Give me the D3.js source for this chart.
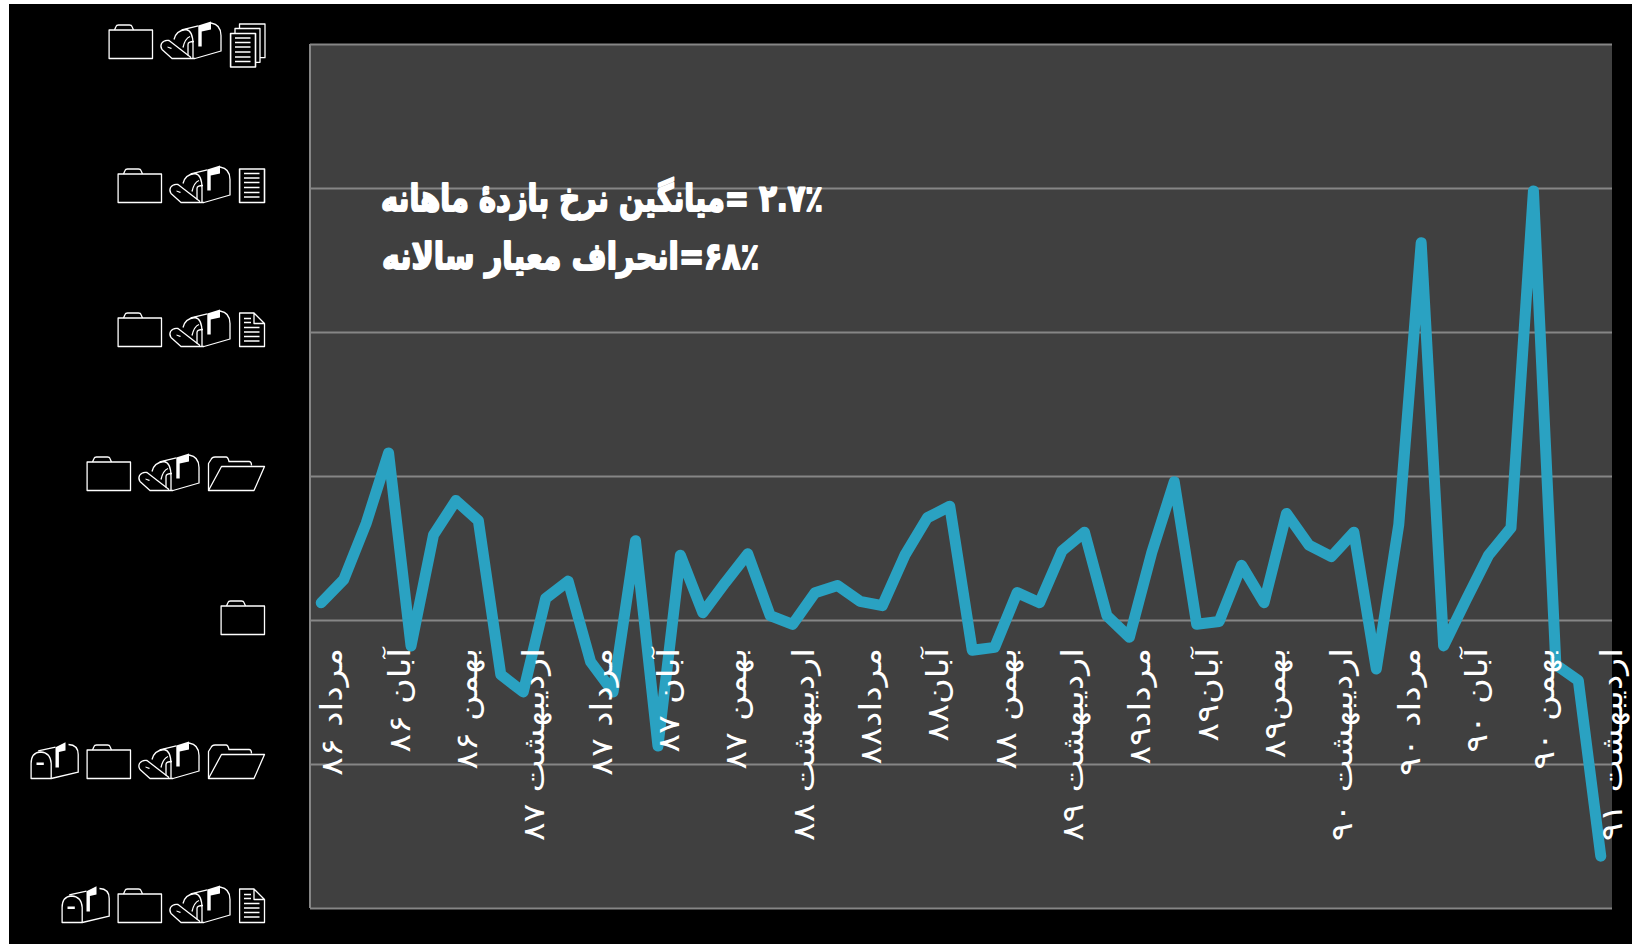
<!DOCTYPE html>
<html>
  <head>
    <meta charset="utf-8" />
    <script src="https://d3js.org/d3.v7.min.js"></script>
    <style>
      html, body { margin: 0; padding: 0; background: #fff; overflow: hidden; }
      svg { display: block; }
    </style>
  </head>
  <body>
    <svg></svg>
    <script>
      // monthly return, mordad 86 to ordibehesht 91
      const monthlyReturn = [
        0.012, 0.028, 0.067, 0.116, -0.018, 0.059, 0.083, 0.069, -0.038, -0.05,
        0.015, 0.027, -0.029, -0.05, 0.055, -0.0875, 0.045, 0.005, 0.026, 0.046,
        0.003, -0.003, 0.019, 0.024, 0.013, 0.01, 0.045, 0.071, 0.079, -0.021,
        -0.019, 0.019, 0.012, 0.048, 0.061, 0.003, -0.012, 0.047, 0.096, -0.003,
        -0.001, 0.038, 0.012, 0.074, 0.052, 0.044, 0.061, -0.034, 0.066, 0.262,
        -0.018, 0.014, 0.045, 0.064, 0.298, -0.031, -0.042, -0.164
      ];
      // one label every third month
      const monthLabels = [
        "مرداد ۸۶", "آبان ۸۶", "بهمن ۸۶", "اردیبهشت ۸۷", "مرداد ۸۷", "آبان ۸۷", "بهمن ۸۷",
        "اردیبهشت ۸۸", "مرداد۸۸", "آبان۸۸", "بهمن ۸۸", "اردیبهشت ۸۹", "مرداد۸۹", "آبان۸۹",
        "بهمن۸۹", "اردیبهشت ۹۰", "مرداد ۹۰", "آبان ۹۰", "بهمن ۹۰", "اردیبهشت ۹۱"
      ];
      const yTicks = [-0.2, -0.1, 0, 0.1, 0.2, 0.3, 0.4];
      const statLines = ["۲.۷٪ =میانگین نرخ بازدهٔ ماهانه", "۶۸٪=انحراف معیار سالانه"];

      const width = 1632, height = 944;
      const plot = { left: 310, right: 1612, top: 44, bottom: 908 };
      const gridColor = "#868686";

      const svg = d3.select("svg").attr("width", width).attr("height", height);

      svg.append("rect").attr("x", 9).attr("y", 4)
        .attr("width", width - 9).attr("height", height - 4).attr("fill", "#000");
      svg.append("rect").attr("x", plot.left).attr("y", plot.top)
        .attr("width", plot.right - plot.left).attr("height", plot.bottom - plot.top)
        .attr("fill", "#404040");

      const x = d3.scaleBand()
        .domain(d3.range(monthlyReturn.length))
        .range([plot.left, plot.right]);
      const y = d3.scaleLinear().domain([-0.2, 0.4]).range([plot.bottom, plot.top]);

      // grid lines
      const yGrid = svg.append("g")
        .attr("transform", `translate(${plot.left},0)`)
        .call(d3.axisLeft(y).tickValues(yTicks).tickSize(-(plot.right - plot.left)).tickFormat(""));
      yGrid.selectAll(".tick line").attr("stroke", gridColor).attr("stroke-width", 2);
      yGrid.select(".domain").attr("stroke", gridColor).attr("stroke-width", 2).attr("d", `M0,${plot.top}V${plot.bottom}`);

      // the y labels came out as wingdings in the original, so each character gets its icon
      const glyphs = {
        "0": { w: 44.5, draw: drawFolder },
        "1": { w: 57, draw: drawOpenFolder },
        "2": { w: 26, draw: drawPage },
        "3": { w: 26, draw: drawLinedPage },
        "4": { w: 35, draw: drawPages },
        ".": { w: 61, draw: drawOpenMailbox },
        "-": { w: 48, draw: drawMailbox }
      };
      const glyphGap = 8;

      function outline(g, d) {
        return g.append("path").attr("d", d).attr("fill", "none")
          .attr("stroke", "#fff").attr("stroke-width", 1.3).attr("stroke-linejoin", "round");
      }
      function solid(g, d) {
        return g.append("path").attr("d", d).attr("fill", "#fff");
      }
      function textLines(g, ys, x0, x1) {
        outline(g, ys.map(v => `M${x0},${v}H${x1}`).join("")).attr("stroke-width", 1.6);
      }
      function drawFolder(g) {
        outline(g, "M0.6,0V-28.5H44V0Z");
        outline(g, "M6,-28.5L7.5,-32Q8,-33.5 10,-33.5H21Q23,-33.5 23.5,-32L25,-28.5");
      }
      function drawOpenFolder(g) {
        outline(g, "M0.5,0V-27L3,-31Q4,-33.5 7,-33.5H18Q20,-33.5 21,-29H41Q43.5,-29 43.5,-25");
        outline(g, "M0.5,0L13.5,-24H56.5L46,0Z");
      }
      function drawPage(g) {
        outline(g, "M0.6,0V-33.5H15L25.5,-23V0Z M15,-33.5V-23H25.5");
        textLines(g, [-28, -24], 5, 12);
        textLines(g, [-19, -14.5, -10, -5.5], 5, 20.5);
      }
      function drawLinedPage(g) {
        outline(g, "M0.6,0V-33.5H25.5V0Z").attr("stroke-width", 1.6);
        textLines(g, [-29, -24.5, -20, -15, -10, -5.5], 5, 20.5);
      }
      function drawPages(g) {
        const s = 8.5;
        outline(g, `M0.6,${s}V${s - 33.5}H25.5V${s}Z`).attr("stroke-width", 1.6);
        outline(g, `M5,${s - 33.5}V${s - 38.5}H30V${s - 4.7}H25.5`);
        outline(g, `M9.5,${s - 38.5}V${s - 43}H35V${s - 9.3}H30`);
        textLines(g, [-29, -24.5, -20, -15, -10, -5.5].map(v => v + s), 5, 20.5);
      }
      function drawOpenMailbox(g) {
        outline(g, "M20.7,-28.7L37.3,-32.7M50,-35.5Q60,-34 60,-23V-7.5L34,0H11L1,-9Q-1,-12 0.5,-15Q3,-19 8,-18L30,-1");
        outline(g, "M13,-19Q15,-28 25,-29Q32,-28 32,-14V0");
        outline(g, "M22,-11Q24,-20 29,-22M27,-3V-14Q27,-17 33,-17");
        solid(g, "M37.3,-33L50,-37V-29L40.7,-27V-12H37.3Z");
        solid(g, "M6.5,-12L11,-10.5L10,-9.5L6.5,-11Z");
      }
      function drawMailbox(g) {
        outline(g, "M0.6,0V-15Q0.6,-26 10,-26.5Q20,-26 20.7,-15V0Z");
        outline(g, "M7.7,-27.7L25,-31.3M38,-34Q47.7,-33.5 47.7,-24V-6.3L20.7,0");
        solid(g, "M25,-31.3L35,-36.3V-28L28.4,-26.5V-11H25Z");
        solid(g, "M6,-16H13.3V-13.5H6Z");
      }

      const yLabels = svg.append("g").selectAll("g").data(yTicks).join("g")
        .attr("transform", d => `translate(0,${y(d) + 14.5})`);
      yLabels.append("title").text(d => d.toFixed(1));
      yLabels.each(function (d) {
        const chars = (d === 0 ? "0" : d.toFixed(1)).split("");
        let right = 265;
        // rightmost icon is the last character
        chars.reverse().forEach(c => {
          const glyph = glyphs[c];
          glyph.draw(d3.select(this).append("g").attr("transform", `translate(${right - glyph.w},0)`));
          right -= glyph.w + glyphGap;
        });
      });

      // line
      const line = d3.line()
        .x((d, i) => x(i) + x.bandwidth() / 2)
        .y(d => y(d));
      svg.append("path")
        .datum(monthlyReturn)
        .attr("d", line)
        .attr("fill", "none")
        .attr("stroke", "#2AA2C2")
        .attr("stroke-width", 11)
        .attr("stroke-linejoin", "round")
        .attr("stroke-linecap", "round");

      // x labels hang below the zero line, rotated; stretched because the original font runs wider
      const xAxis = svg.append("g")
        .attr("transform", `translate(0,${y(0)})`)
        .call(d3.axisBottom(x)
          .tickValues(monthLabels.map((d, i) => i * 3))
          .tickSize(0)
          .tickFormat(i => monthLabels[i / 3]));
      xAxis.select(".domain").remove();
      xAxis.selectAll("text")
        .attr("font-family", "'DejaVu Sans'")
        .attr("font-size", 30)
        .attr("fill", "#fff")
        .attr("direction", "rtl")
        .attr("text-anchor", "start")
        .attr("x", 0).attr("y", 0).attr("dy", 0)
        .attr("transform", "translate(21,28) rotate(-90) scale(1.17,1)");

      // stats, squeezed to the width they have in the original
      const statRight = [823, 759];
      const statBase = [211, 269];
      const statWidth = [442, 377];
      svg.append("g").selectAll("text").data(statLines).join("text")
        .attr("direction", "rtl")
        .attr("text-anchor", "start")
        .attr("font-family", "'DejaVu Sans'")
        .attr("font-weight", "bold")
        .attr("font-size", 37)
        .attr("fill", "#fff")
        .attr("stroke", "#fff")
        .attr("stroke-width", 2)
        .attr("stroke-linejoin", "round")
        .text(d => d)
        .attr("transform", function (d, i) {
          const k = statWidth[i] / this.getComputedTextLength();
          return `translate(${statRight[i]},${statBase[i]}) scale(${k},1)`;
        });
    </script>
  </body>
</html>
